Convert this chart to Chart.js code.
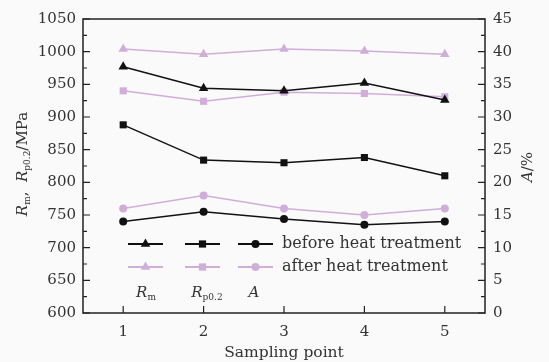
<!DOCTYPE html>
<html lang="en">
<head>
<meta charset="UTF-8">
<title>Tensile properties</title>
<script src="https://cdn.jsdelivr.net/npm/chart.js"></script>
<style>
  body { margin: 0; background: #fafafa; }
</style>
</head>
<body>
<canvas id="chart" width="549" height="362"></canvas>
<script>
// sampling points along the part
const samplingPoints = [1, 2, 3, 4, 5];

// before heat treatment
const rmBefore = [977, 944, 940, 952, 926];
const rpBefore = [888, 834, 830, 838, 810];
const aBefore = [14, 15.5, 14.4, 13.5, 14];

// after heat treatment
const rmAfter = [1004, 996, 1004, 1001, 996];
const rpAfter = [940, 924, 938, 936, 931];
const aAfter = [16, 18, 16, 15, 16];

const legendRows = ['before heat treatment', 'after heat treatment'];

const BLACK = '#111';
const PINK = '#d0aed9';
const TEXT = '#333';
const FONT = "'DejaVu Serif', 'Liberation Serif', serif";

Chart.defaults.font.family = FONT;
Chart.defaults.font.size = 15;
Chart.defaults.color = TEXT;

function pts(vals) {
    return vals.map((v, i) => ({ x: samplingPoints[i], y: v }));
}

function series(label, vals, color, style, radius, axis) {
    return {
        label: label,
        data: pts(vals),
        yAxisID: axis,
        borderColor: color,
        backgroundColor: color,
        borderWidth: 1.5,
        pointStyle: style,
        pointRadius: radius,
        pointBorderWidth: 0,
        pointHoverRadius: radius,
        fill: false,
        tension: 0
    };
}

function marker(ctx, style, x, y, color) {
    ctx.fillStyle = color;
    ctx.beginPath();
    if (style === 'triangle') {
        const r = 5.5;
        ctx.moveTo(x, y - r);
        ctx.lineTo(x + r * 0.866, y + r / 2);
        ctx.lineTo(x - r * 0.866, y + r / 2);
        ctx.closePath();
    } else if (style === 'rect') {
        ctx.rect(x - 3.6, y - 3.6, 7.2, 7.2);
    } else {
        ctx.arc(x, y, 4, 0, Math.PI * 2);
    }
    ctx.fill();
}

// draws pieces of text [text, size, italic, dy] along a line
function richText(ctx, parts, cx, cy) {
    const widths = parts.map(p => {
        ctx.font = (p[2] ? 'italic ' : '') + p[1] + 'px ' + FONT;
        return ctx.measureText(p[0]).width;
    });
    let x = cx - widths.reduce((a, b) => a + b, 0) / 2;
    parts.forEach((p, i) => {
        ctx.font = (p[2] ? 'italic ' : '') + p[1] + 'px ' + FONT;
        ctx.fillText(p[0], x, cy + p[3]);
        x += widths[i];
    });
}

const framePlugin = {
    id: 'frame',
    beforeDraw(chart) {
        const ctx = chart.ctx;
        ctx.save();
        ctx.fillStyle = '#fafafa';
        ctx.fillRect(0, 0, chart.width, chart.height);
        ctx.restore();
    },
    afterDraw(chart) {
        const { ctx, chartArea: a, scales } = chart;
        ctx.save();
        ctx.strokeStyle = '#222';
        ctx.lineWidth = 1.5;
        ctx.strokeRect(a.left, a.top, a.right - a.left, a.bottom - a.top);

        ctx.lineWidth = 1.2;
        ctx.beginPath();
        for (let v = 600; v <= 1050; v += 25) {
            const y = scales.y.getPixelForValue(v);
            const len = v % 50 === 0 ? 7 : 4;
            ctx.moveTo(a.left, y);
            ctx.lineTo(a.left + len, y);
        }
        for (let v = 0; v <= 45; v += 2.5) {
            const y = scales.y2.getPixelForValue(v);
            const len = v % 5 === 0 ? 7 : 4;
            ctx.moveTo(a.right, y);
            ctx.lineTo(a.right - len, y);
        }
        samplingPoints.forEach(v => {
            const x = scales.x.getPixelForValue(v);
            ctx.moveTo(x, a.bottom);
            ctx.lineTo(x, a.bottom - 7);
        });
        ctx.stroke();

        // legend
        const cols = [[128, 163, 'triangle'], [185, 220, 'rect'], [238, 273, 'circle']];
        const rowsY = [244, 267];
        [BLACK, PINK].forEach((color, r) => {
            const y = rowsY[r];
            cols.forEach(c => {
                ctx.strokeStyle = color;
                ctx.lineWidth = 2;
                ctx.beginPath();
                ctx.moveTo(c[0], y);
                ctx.lineTo(c[1], y);
                ctx.stroke();
                marker(ctx, c[2], (c[0] + c[1]) / 2, y, color);
            });
            ctx.fillStyle = TEXT;
            ctx.font = '16px ' + FONT;
            ctx.textBaseline = 'middle';
            ctx.textAlign = 'left';
            ctx.fillText(legendRows[r], 282, y);
        });
        ctx.fillStyle = TEXT;
        ctx.textBaseline = 'alphabetic';
        ctx.textAlign = 'left';
        richText(ctx, [['R', 15, true, 0], ['m', 9, false, 3]], 146, 297);
        richText(ctx, [['R', 15, true, 0], ['p0.2', 9, false, 3]], 207, 297);
        richText(ctx, [['A', 15, true, 0]], 254, 297);

        // axis titles
        ctx.save();
        ctx.translate(27, 164);
        ctx.rotate(-Math.PI / 2);
        richText(ctx, [['R', 15, true, 0], ['m', 9, false, 3], [',  ', 15, false, 0],
                       ['R', 15, true, 0], ['p0.2', 9, false, 3], ['/MPa', 15, false, 0]], 0, 0);
        ctx.restore();
        ctx.save();
        ctx.translate(532, 167);
        ctx.rotate(-Math.PI / 2);
        richText(ctx, [['A', 15, true, 0], ['/%', 15, false, 0]], 0, 0);
        ctx.restore();

        ctx.textAlign = 'center';
        ctx.font = '15.5px ' + FONT;
        ctx.fillText('Sampling point', (a.left + a.right) / 2, 357);
        ctx.restore();
    }
};

new Chart(document.getElementById('chart'), {
    type: 'line',
    data: {
        datasets: [
            series('Rm before', rmBefore, BLACK, 'triangle', 5.5, 'y'),
            series('Rp0.2 before', rpBefore, BLACK, 'rect', 5, 'y'),
            series('A before', aBefore, BLACK, 'circle', 4, 'y2'),
            series('Rm after', rmAfter, PINK, 'triangle', 5.5, 'y'),
            series('Rp0.2 after', rpAfter, PINK, 'rect', 5, 'y'),
            series('A after', aAfter, PINK, 'circle', 4, 'y2')
        ]
    },
    options: {
        responsive: false,
        animation: false,
        layout: { padding: { top: 19, left: 0, right: 0, bottom: 0 } },
        plugins: {
            legend: { display: false },
            tooltip: { enabled: false }
        },
        scales: {
            x: {
                type: 'linear',
                min: 0.5,
                max: 5.5,
                afterBuildTicks: s => { s.ticks = samplingPoints.map(v => ({ value: v })); },
                afterFit: s => { s.height = 49; },
                grid: { display: false, drawTicks: false },
                border: { display: false },
                ticks: { padding: 10, callback: v => String(v) }
            },
            y: {
                position: 'left',
                min: 600,
                max: 1050,
                afterFit: s => { s.width = 83; },
                grid: { display: false, drawTicks: false },
                border: { display: false },
                ticks: { stepSize: 50, padding: 7, callback: v => String(v) }
            },
            y2: {
                position: 'right',
                min: 0,
                max: 45,
                afterFit: s => { s.width = 64; },
                grid: { display: false, drawTicks: false },
                border: { display: false },
                ticks: { stepSize: 5, padding: 8, callback: v => String(v) }
            }
        }
    },
    plugins: [framePlugin]
});
</script>
</body>
</html>
